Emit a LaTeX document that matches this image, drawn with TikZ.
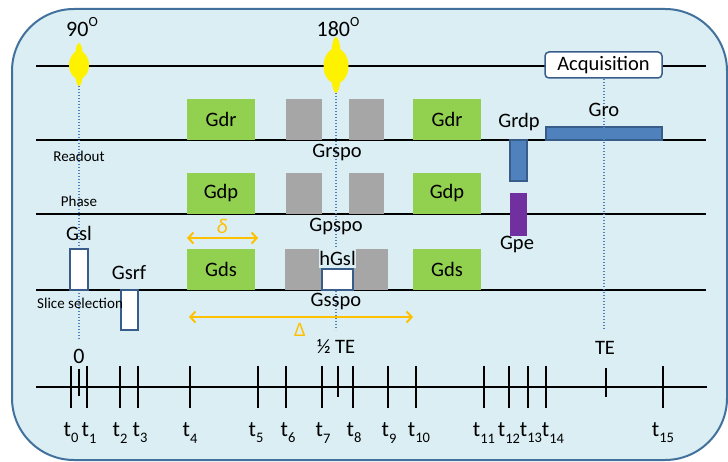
\documentclass[tikz,border=0pt]{standalone}
\usepackage{fontspec}
\setmainfont{Carlito}
\usetikzlibrary{arrows.meta}
\definecolor{bg}{HTML}{DAEEF3}
\definecolor{framec}{HTML}{41719C}
\definecolor{ggreen}{HTML}{92D050}
\definecolor{ggray}{HTML}{A6A6A6}
\definecolor{gblue}{HTML}{4F81BD}
\definecolor{gblueb}{HTML}{385D8A}
\definecolor{gpurple}{HTML}{7030A0}
\definecolor{orng}{HTML}{FFC000}
\newcommand\tsub[1]{\raisebox{-0.28em}{\fontsize{14.5}{14.5}\selectfont #1}}
\newcommand\tsup[1]{\raisebox{0.42em}{\fontsize{14}{14}\selectfont #1}}
\begin{document}
\begin{tikzpicture}[x=1pt,y=-1pt,
  mainfont/.style={font=\fontsize{20.5}{24}\selectfont},
  smallfont/.style={font=\fontsize{15}{18}\selectfont},
  ticklab/.style={font=\fontsize{22}{26}\selectfont, inner sep=0pt},
  axisline/.style={line width=2.8pt, black},
  tickline/.style={line width=1.8pt, black},
  grnbox/.style={fill=ggreen, draw=none, inner sep=0pt, mainfont},
  graybox/.style={fill=ggray, draw=none, inner sep=0pt},
  bluebox/.style={fill=gblue, draw=gblueb, line width=1.2pt, inner sep=0pt},
  purplebox/.style={fill=gpurple, draw=none, inner sep=0pt},
  whitebox/.style={fill=white, draw=gblueb, line width=1.5pt, inner sep=0pt},
  lab/.style={mainfont, inner sep=0pt},
  dotline/.style={gblue, line width=1.4pt, dash pattern=on 1.4pt off 1.6pt},
  orarrow/.style={orng, line width=2pt, {Straight Barb[length=5pt,width=11pt]}-{Straight Barb[length=5pt,width=11pt]}},
  pulse/.style={fill=yellow, draw=none}
]
\useasboundingbox (0,0) rectangle (728,462);
\fill[white] (0,0) rectangle (728,462);
\draw[framec, line width=2pt, fill=bg, rounded corners=62pt] (12,9) rectangle (727,460);

% axis lines
\coordinate (rfL) at (36,66);   \coordinate (rfR) at (706,66);
\coordinate (roL) at (36,140);  \coordinate (roR) at (706,140);
\coordinate (phL) at (36,214);  \coordinate (phR) at (706,214);
\coordinate (slL) at (36,290);  \coordinate (slR) at (706,290);
\coordinate (tL) at (36,387);   \coordinate (tR) at (707,387);
\draw[axisline] (rfL) -- (rfR);
\draw[axisline] (roL) -- (roR);
\draw[axisline] (phL) -- (phR);
\draw[axisline] (slL) -- (slR);
\draw[axisline] (tL) -- (tR);

% RF pulses
\fill[pulse] (79,65) ellipse [x radius=10, y radius=14];
\fill[pulse] (79,64.5) ellipse [x radius=4.5, y radius=21.5];
\coordinate (p90) at (79,86);
\fill[pulse] (336,66) ellipse [x radius=12.5, y radius=17.5];
\fill[pulse] (336,65) ellipse [x radius=5.5, y radius=28];
\coordinate (p180) at (336,93);
\node[lab, font=\fontsize{22}{26}\selectfont] (l90) at (82,27) {90\tsup{O}};
\node[lab, font=\fontsize{22}{26}\selectfont] (l180) at (338,27) {180\tsup{O}};

% Acquisition
\node[whitebox, rounded corners=4pt, minimum width=117, minimum height=26, mainfont] (acq) at (603.5,65) {Acquisition};

% readout row
\node[grnbox, minimum width=68, minimum height=41] (gdr1) at (221,119.5) {Gdr};
\node[graybox, minimum width=36, minimum height=41] (gr1) at (304,119.5) {};
\node[graybox, minimum width=35, minimum height=41] (gr2) at (366.5,119.5) {};
\node[grnbox, minimum width=68, minimum height=41] (gdr2) at (447,119.5) {Gdr};
\node[bluebox, minimum width=17, minimum height=41] (grdp) at (518.5,160.5) {};
\node[bluebox, minimum width=116, minimum height=13] (gro) at (604,133.5) {};

% phase row
\node[grnbox, minimum width=68, minimum height=41] (gdp1) at (221,193.5) {Gdp};
\node[graybox, minimum width=36, minimum height=41] (gp1) at (304,193.5) {};
\node[graybox, minimum width=35, minimum height=41] (gp2) at (366.5,193.5) {};
\node[grnbox, minimum width=68, minimum height=41] (gdp2) at (447,193.5) {Gdp};
\node[purplebox, minimum width=17, minimum height=43] (gpe) at (518.5,214.5) {};

% slice row
\node[grnbox, minimum width=68, minimum height=41] (gds1) at (221,269.5) {Gds};
\node[graybox, minimum width=103, minimum height=41] (gs1) at (336.5,269.5) {};
\node[grnbox, minimum width=68, minimum height=41] (gds2) at (447,269.5) {Gds};

% dotted markers
\coordinate (d90) at (79,340);
\coordinate (d180) at (336,330);
\coordinate (dacq) at (604,330);
\draw[dotline] (p90) -- (d90);
\draw[dotline] (p180) -- (d180);
\draw[dotline] (acq.south -| dacq) -- (dacq);

% white boxes
\node[whitebox, minimum width=18, minimum height=41] (gsl) at (79,269.5) {};
\node[whitebox, minimum width=17, minimum height=40] (gsrf) at (129.5,310) {};
\node[fill=bg, inner sep=0pt, minimum width=33, minimum height=20, lab] (hgsl) at (337.5,258.5) {hGsl};
\node[whitebox, minimum width=31, minimum height=21] (hgslbox) at (337.5,279.5) {};

% labels
\node[lab] (lgsl) at (79,233) {Gsl};
\node[lab] (lgsrf) at (129,273) {Gsrf};
\node[lab] (lgrspo) at (337,153) {Grspo};
\node[lab] (lgpspo) at (336,227) {Gpspo};
\node[lab] (lgsspo) at (336,301) {Gsspo};
\node[lab] (lgrdp) at (519,122) {Grdp};
\node[lab] (lgro) at (604,110) {Gro};
\node[lab] (lgpe) at (517,245) {Gpe};
\node[smallfont, inner sep=0pt] (lread) at (79,156) {Readout};
\node[smallfont, inner sep=0pt] (lphase) at (79,201) {Phase};
\node[smallfont, inner sep=0pt, anchor=west] (lslice) at (37,303) {Slice selection};
\node[lab, font=\fontsize{22}{26}\selectfont] (l0) at (79,356) {0};
\node[lab] (lhte) at (336,347) {½ TE};
\node[lab] (lte) at (605,348) {TE};

% orange arrows
\coordinate (da) at (187,238); \coordinate (db) at (258,238);
\draw[orarrow] (da) -- (db);
\node[lab, orng, font=\fontsize{21}{24}\selectfont\itshape] (ldelta) at (222,226) {δ};
\coordinate (Da) at (189,317); \coordinate (Db) at (413,317);
\draw[orarrow] (Da) -- (Db);
\node[lab, orng] (lDelta) at (300,330) {Δ};

% ticks
\foreach \x/\n in {71/0,87/1,120/2,138/3,190/4,258/5,286/6,322/7,353/8,388/9,416/10,484/11,509/12,528/13,546/14,663/15} {
  \coordinate (tk\n) at (\x,366);
  \draw[tickline] (tk\n) -- ++(0,42);
}
\coordinate (tz) at (79,369);   \draw[tickline] (tz) -- ++(0,27);
\coordinate (thte) at (338,366); \draw[tickline] (thte) -- ++(0,31);
\coordinate (tte) at (606,368); \draw[tickline] (tte) -- ++(0,29);

\foreach \x/\n in {71/0,89/1,120/2,140/3,190/4,256/5,288/6,323/7,354/8,389/9,419/10,484/11,509/12,531/13,553/14,663/15} {
  \node[ticklab] (tl\n) at (\x,433) {t\tsub{\n}};
}
\end{tikzpicture}
\end{document}
